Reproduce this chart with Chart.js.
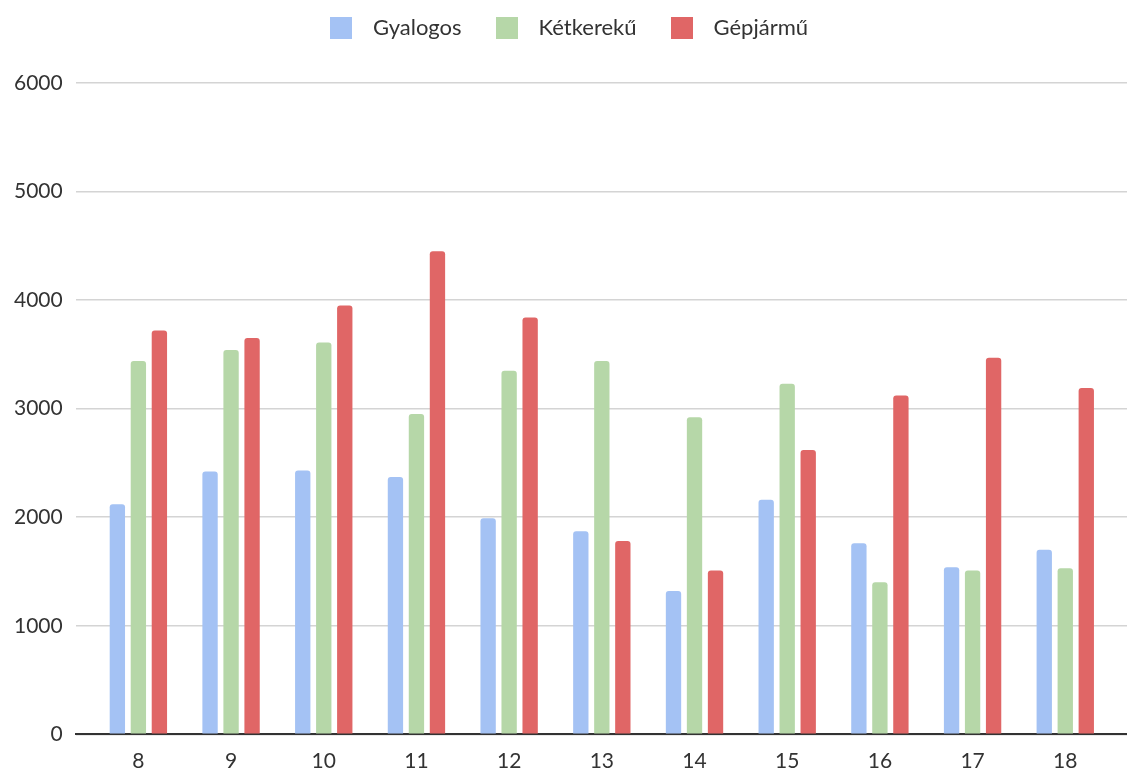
<!DOCTYPE html>
<html lang="hu">
<head>
<meta charset="utf-8">
<title>Forgalom óránként</title>
<script src="https://cdn.jsdelivr.net/npm/chart.js@4.4.1/dist/chart.umd.min.js"></script>
<style>
  html, body { margin: 0; padding: 0; background: #fff; }
  #wrap { position: relative; width: 1127px; height: 769px; }
</style>
</head>
<body>
<div id="wrap"><canvas id="chart"></canvas></div>
<script>
// óránkénti forgalom (8-18 óra)
const hours = [8, 9, 10, 11, 12, 13, 14, 15, 16, 17, 18];
const gyalogos = [2120, 2420, 2430, 2370, 1990, 1870, 1320, 2160, 1760, 1540, 1700];
const ketkereku = [3440, 3540, 3610, 2950, 3350, 3440, 2920, 3230, 1400, 1510, 1530];
const gepjarmu = [3720, 3650, 3950, 4450, 3840, 1780, 1510, 2620, 3120, 3470, 3190];
const yTicks = [0, 1000, 2000, 3000, 4000, 5000, 6000];

const COLORS = ['#a4c2f4', '#b6d7a8', '#e06666'];
const TEXT = '#333333';

Chart.defaults.font.family = 'Lato, "Open Sans", sans-serif';
Chart.defaults.font.size = 21;
Chart.defaults.color = TEXT;

// négyzetes jelölő a jelmagyarázathoz
function swatch(color) {
  const c = document.createElement('canvas');
  c.width = 22;
  c.height = 22;
  const g = c.getContext('2d');
  g.fillStyle = color;
  g.fillRect(0, 0, 22, 22);
  return c;
}

// több hely a jelmagyarázat és a diagram között
const legendGap = {
  id: 'legendGap',
  beforeInit(chart) {
    const fit = chart.legend.fit;
    chart.legend.fit = function () {
      fit.call(this);
      this.height += 34;
    };
  },
};

new Chart(document.getElementById('chart'), {
  type: 'bar',
  data: {
    labels: hours,
    datasets: [
      { label: 'Gyalogos', data: gyalogos, backgroundColor: COLORS[0] },
      { label: 'Kétkerekű', data: ketkereku, backgroundColor: COLORS[1] },
      { label: 'Gépjármű', data: gepjarmu, backgroundColor: COLORS[2] },
    ],
  },
  options: {
    responsive: true,
    maintainAspectRatio: false,
    animation: false,
    categoryPercentage: 0.68,
    barPercentage: 0.73,
    borderRadius: 3,
    layout: { padding: { top: -7, left: 1, right: 0, bottom: -18.5 } },
    plugins: {
      tooltip: { enabled: false },
      legend: {
        position: 'top',
        labels: {
          usePointStyle: true,
          pointStyleWidth: 42,
          padding: 24,
          color: TEXT,
          font: { size: 22 },
          generateLabels(chart) {
            const items = Chart.defaults.plugins.legend.labels.generateLabels(chart);
            items.forEach((it, i) => { it.pointStyle = swatch(COLORS[i]); });
            return items;
          },
        },
      },
    },
    scales: {
      x: {
        type: 'linear',
        offset: false,
        min: hours[0] - 0.676,
        max: hours[hours.length - 1] + 0.666,
        grid: { display: false, drawTicks: false },
        border: { color: '#333', width: 2 },
        ticks: {
          stepSize: 1,
          includeBounds: false,
          padding: 14,
          maxRotation: 0,
          autoSkip: false,
          callback: v => String(v),
        },
      },
      y: {
        min: yTicks[0],
        max: yTicks[yTicks.length - 1],
        grid: { color: '#d4d4d4', lineWidth: 1.5, drawTicks: false },
        border: { display: false },
        ticks: {
          stepSize: yTicks[1] - yTicks[0],
          padding: 13,
          callback: v => String(v),
        },
      },
    },
  },
  plugins: [legendGap],
});
</script>
</body>
</html>
